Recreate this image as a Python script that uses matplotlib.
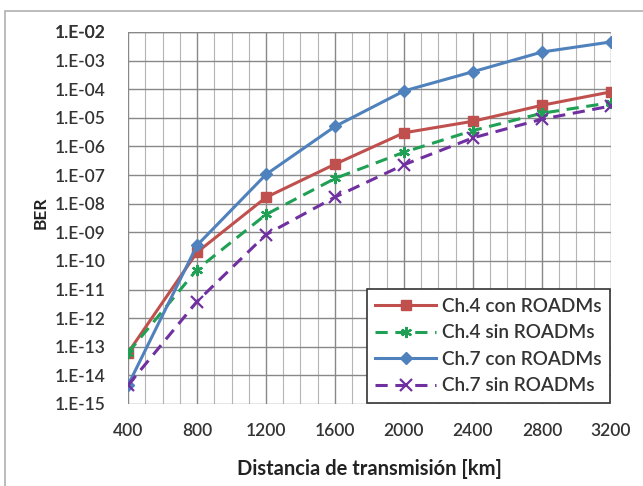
import matplotlib
matplotlib.use("Agg")
import matplotlib.pyplot as plt
from matplotlib.patches import Rectangle

distance_km = [400, 800, 1200, 1600, 2000, 2400, 2800, 3200]
ch4_con = [6.2e-14, 2.0e-10, 1.66e-8, 2.4e-7, 3.0e-6, 7.6e-6, 2.75e-5, 8.1e-5]
ch4_sin = [6.2e-14, 5.0e-11, 4.2e-9, 7.6e-8, 6.3e-7, 3.6e-6, 1.45e-5, 3.4e-5]
ch7_con = [4.5e-15, 3.5e-10, 1.05e-7, 5.0e-6, 8.7e-5, 4.1e-4, 2.0e-3, 4.5e-3]
ch7_sin = [4.5e-15, 3.8e-12, 8.3e-10, 1.7e-8, 2.3e-7, 2.0e-6, 9.0e-6, 2.6e-5]

series_labels = ["Ch.4 con ROADMs", "Ch.4 sin ROADMs", "Ch.7 con ROADMs", "Ch.7 sin ROADMs"]
x_ticks = [400, 800, 1200, 1600, 2000, 2400, 2800, 3200]
y_exponents = list(range(-15, -1))
y_tick_labels = ["1.E-%02d" % (-e) for e in y_exponents]

plt.rcParams['font.family'] = ['Lato', 'DejaVu Sans']

fig = plt.figure(figsize=(6.43, 4.86), dpi=100)
fig.patch.set_facecolor('white')
ax = fig.add_axes([128/643, 1-404/486, (611-128)/643, (404-32)/486])

# outer chart frame
fig.add_artist(Rectangle((5/643, -0.1), 1.2, 1 - 11/486 + 0.1, transform=fig.transFigure,
                         fill=False, edgecolor='#b0b0b0', linewidth=1.2))

red = '#C0504D'
green = '#1FA055'
blue = '#4F81BD'
purple = '#7030A0'

ax.plot(distance_km, ch4_con, color=red, lw=2.2, marker='s', ms=7, label=series_labels[0], zorder=3)
ax.plot(distance_km, ch4_sin, color=green, lw=2.2, ls=(0, (4, 2.5)), marker=(6, 2, 0), ms=8, mew=1.6,
        label=series_labels[1], zorder=3)
ax.plot(distance_km, ch7_con, color=blue, lw=2.2, marker='D', ms=6, label=series_labels[2], zorder=3)
ax.plot(distance_km, ch7_sin, color=purple, lw=2.2, ls=(0, (4, 2.5)), marker='x', ms=8, mew=1.6,
        label=series_labels[3], zorder=3)

ax.set_yscale('log')
ax.set_xlim(400, 3200)
ax.set_ylim(1e-15, 1e-2)
ax.set_xticks(x_ticks)
ax.set_xticks(list(range(400, 3201, 100)), minor=True)
ax.set_yticks([10.0**e for e in y_exponents] + [1e-2])
ax.set_yticklabels(y_tick_labels + ["1.E-02"])
ax.yaxis.set_minor_locator(matplotlib.ticker.NullLocator())
ax.grid(True, which='major', color='#888888', lw=1.0)
ax.grid(True, which='minor', axis='x', color='#b5b5b5', lw=0.8)
ax.tick_params(which='both', length=0)
ax.tick_params(axis='y', labelsize=12.5, pad=16, colors='#333333')
ax.tick_params(axis='x', labelsize=12.5, pad=14, colors='#333333')
for lbl in ax.get_xticklabels() + ax.get_yticklabels():
    lbl.set_fontweight('semibold')
for s in ax.spines.values():
    s.set_visible(False)

ax.set_xlabel("Distancia de transmisión [km]", fontsize=14.5, fontweight='bold', color='#222222', labelpad=14)
ax.set_ylabel("BER", fontsize=12.5, fontweight='bold', color='#222222', labelpad=19)
ax.yaxis.set_label_coords(-0.165, 0.515)

leg = ax.legend(loc='lower right', bbox_to_anchor=(1.0, 0.0), fontsize=13.7, frameon=True,
                fancybox=False, borderpad=0.45, labelspacing=0.5, handlelength=3.2,
                handletextpad=0.3, borderaxespad=0.05)
leg.get_frame().set_edgecolor('#333333')
leg.get_frame().set_linewidth(1.2)
leg.get_frame().set_alpha(1.0)
for t in leg.get_texts():
    t.set_color('#333333')
    t.set_fontweight('semibold')

fig.savefig("out.png", dpi=100, facecolor='white')
